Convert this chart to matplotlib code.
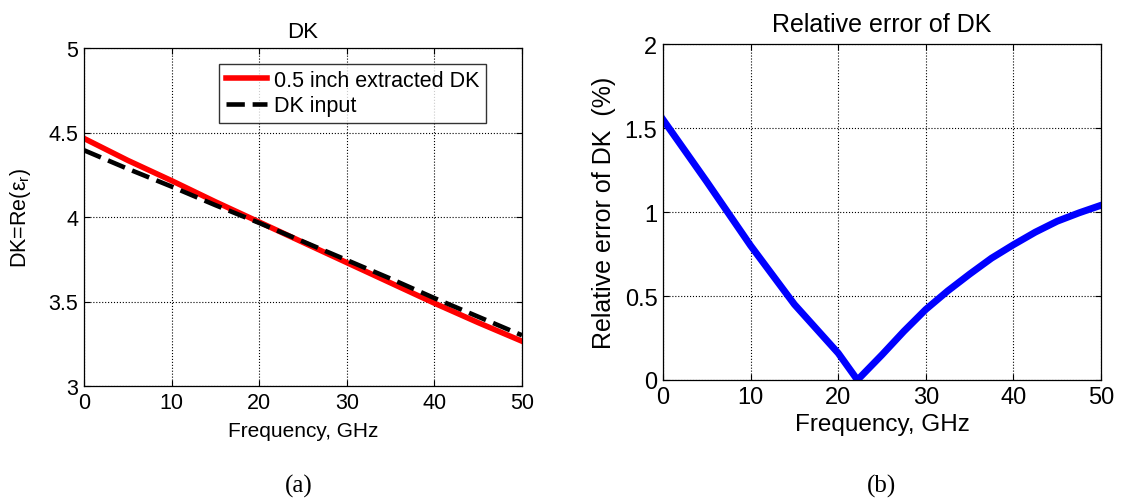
import matplotlib
matplotlib.use("Agg")
import matplotlib.pyplot as plt

# ---- data ----
freq_dk = [0, 5, 10, 15, 20, 25, 30, 35, 40, 45, 50]
dk_extracted = [4.465, 4.335, 4.215, 4.09, 3.97, 3.85, 3.73, 3.61, 3.49, 3.375, 3.265]
dk_input = [4.395, 4.285, 4.18, 4.07, 3.965, 3.855, 3.745, 3.635, 3.52, 3.41, 3.30]

freq_err = [0, 5, 10, 15, 20, 22.2, 25, 27.5, 30, 32.5, 35, 37.5, 40, 42.5, 45, 47.5, 50]
rel_err = [1.55, 1.18, 0.80, 0.45, 0.16, 0.0, 0.15, 0.29, 0.42, 0.53, 0.63, 0.725, 0.805,
           0.88, 0.945, 0.995, 1.04]

xticks = [0, 10, 20, 30, 40, 50]
yticks_dk = [3, 3.5, 4, 4.5, 5]
ytick_labels_dk = ['3', '3.5', '4', '4.5', '5']
yticks_err = [0, 0.5, 1, 1.5, 2]
ytick_labels_err = ['0', '0.5', '1', '1.5', '2']

plt.rcParams['font.family'] = ['Liberation Sans', 'DejaVu Sans']
plt.rcParams['mathtext.fontset'] = 'custom'
plt.rcParams['mathtext.rm'] = 'Liberation Sans'
plt.rcParams['mathtext.it'] = 'Liberation Sans:italic'

fig = plt.figure(figsize=(11.21, 5.02), dpi=100)
ax1 = fig.add_axes([84 / 1121, 1 - 387 / 502, 438 / 1121, 338 / 502])
ax2 = fig.add_axes([663 / 1121, 1 - 381 / 502, 438 / 1121, 336 / 502])


def style(ax, fs):
    ax.grid(True, color='black', linestyle=':', linewidth=0.8)
    ax.tick_params(direction='in', length=4, width=0.8, labelsize=fs, pad=4,
                   top=True, right=True)
    for s in ax.spines.values():
        s.set_linewidth(0.9)
    ax.set_xticks(xticks)
    ax.set_xticklabels([str(t) for t in xticks])


# left panel
ax1.plot(freq_dk, dk_extracted, color='#ff0000', lw=4, label='0.5 inch extracted DK')
ax1.plot(freq_dk, dk_input, color='black', lw=3.3, dashes=(4, 1.7), label='DK input')
ax1.set_xlim(0, 50)
ax1.set_ylim(3, 5)
style(ax1, 15.5)
ax1.set_yticks(yticks_dk)
ax1.set_yticklabels(ytick_labels_dk)
ax1.set_title('DK', fontsize=16, pad=8)
ax1.set_xlabel('Frequency, GHz', fontsize=15, labelpad=6)
ax1.set_ylabel('DK=Re(ε$_\\mathrm{r}$)', fontsize=15.5, labelpad=11)
leg = ax1.legend(loc='upper right', bbox_to_anchor=(0.918, 0.954), borderaxespad=0,
                 fontsize=15.5, frameon=True, fancybox=False, handlelength=1.9,
                 handletextpad=0.35, borderpad=0.3, labelspacing=0.2)
leg.get_frame().set_edgecolor('black')
leg.get_frame().set_linewidth(1.0)

# right panel
ax2.plot(freq_err, rel_err, color='#0000ff', lw=5)
ax2.set_xlim(0, 50)
ax2.set_ylim(0, 2)
style(ax2, 17)
ax2.set_yticks(yticks_err)
ax2.set_yticklabels(ytick_labels_err)
ax2.set_title('Relative error of DK', fontsize=18, pad=9)
ax2.set_xlabel('Frequency, GHz', fontsize=17.5, labelpad=4)
ax2.set_ylabel('Relative error of DK  (%)', fontsize=18, labelpad=6)

fig.text(299 / 1121, 1 - 486 / 502, '(a)', family='Liberation Serif', fontsize=18,
         ha='center', va='center')
fig.text(882 / 1121, 1 - 486 / 502, '(b)', family='Liberation Serif', fontsize=18,
         ha='center', va='center')

fig.savefig('out.png', dpi=100)
